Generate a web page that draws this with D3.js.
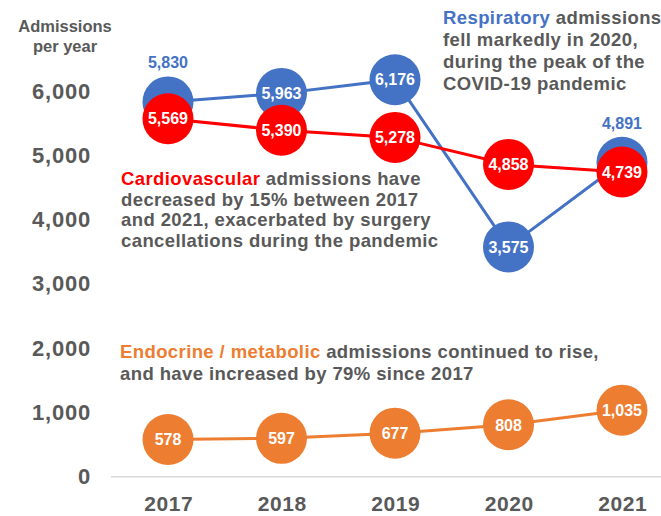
<!DOCTYPE html>
<html>
<head>
<meta charset="utf-8">
<script src="https://cdn.jsdelivr.net/npm/d3@7"></script>
<style>
  body { margin: 0; background: #fff; }
  text { font-family: "Liberation Sans", Arial, Helvetica, sans-serif; font-weight: bold; }
</style>
</head>
<body>
<svg id="chart" width="661" height="516"></svg>
<script>
// Hospital admissions per year by category
const years = ["2017", "2018", "2019", "2020", "2021"];
const respiratory = [5830, 5963, 6176, 3575, 4891];
const cardiovascular = [5569, 5390, 5278, 4858, 4739];
const endocrine = [578, 597, 677, 808, 1035];
const yTicks = [0, 1000, 2000, 3000, 4000, 5000, 6000];

// Which respiratory labels sit above the marker instead of inside it
const respiratoryLabelAbove = [true, false, false, false, true];

const colors = { respiratory: "#4472C4", cardiovascular: "#FF0000", endocrine: "#ED7D31" };
const grey = "#595959";

const svg = d3.select("#chart");

const x = d3.scalePoint().domain(years).range([168, 622]);
const y = d3.scaleLinear().domain([0, 6000]).range([476.7, 91]);

const fmt = d3.format(",");
const R = 25.5;

// Y axis: labels only
const yAxis = svg.append("g")
  .attr("transform", "translate(91,0)")
  .call(d3.axisLeft(y).tickValues(yTicks).tickSize(0).tickPadding(0).tickFormat(fmt));
yAxis.select(".domain").remove();
yAxis.selectAll("text")
  .attr("fill", grey)
  .style("font-size", "22px")
  .style("letter-spacing", "0.8px")
  .style("font-family", "'Liberation Sans', Arial, sans-serif")
  .style("font-weight", "bold");

// Baseline
svg.append("line")
  .attr("x1", 111).attr("x2", 661)
  .attr("y1", y(0)).attr("y2", y(0))
  .attr("stroke", "#d9d9d9").attr("stroke-width", 1.5);

// X axis: year labels
const xAxis = svg.append("g")
  .attr("transform", `translate(0,${y(0)})`)
  .call(d3.axisBottom(x).tickSize(0).tickPadding(19.4));
xAxis.select(".domain").remove();
xAxis.selectAll("text")
  .attr("fill", grey)
  .attr("dx", "0.3px")
  .style("font-size", "21px")
  .style("letter-spacing", "0.6px")
  .style("font-family", "'Liberation Sans', Arial, sans-serif")
  .style("font-weight", "bold");

// Axis title
const title = svg.append("text")
  .attr("x", 65).attr("y", 32)
  .attr("text-anchor", "middle")
  .attr("fill", grey)
  .style("font-size", "16.5px");
title.append("tspan").attr("x", 65).attr("y", 32).text("Admissions");
title.append("tspan").attr("x", 65).attr("y", 52).text("per year");

const line = d3.line().x(d => x(d.year)).y(d => y(d.value));

function drawSeries(values, color, labelAbove) {
  const data = years.map((yr, i) => ({ year: yr, value: values[i], above: labelAbove ? labelAbove[i] : false }));
  const g = svg.append("g");
  g.append("path")
    .datum(data)
    .attr("d", line)
    .attr("fill", "none")
    .attr("stroke", color)
    .attr("stroke-width", 3);
  g.selectAll("circle")
    .data(data)
    .join("circle")
    .attr("cx", d => x(d.year))
    .attr("cy", d => y(d.value))
    .attr("r", R)
    .attr("fill", color);
  g.selectAll("text.inside")
    .data(data.filter(d => !d.above))
    .join("text")
    .attr("class", "inside")
    .attr("x", d => x(d.year))
    .attr("y", d => y(d.value))
    .attr("dy", "0.36em")
    .attr("text-anchor", "middle")
    .attr("fill", "#fff")
    .style("font-size", "16px")
    .text(d => fmt(d.value));
  g.selectAll("text.above")
    .data(data.filter(d => d.above))
    .join("text")
    .attr("class", "above")
    .attr("x", d => x(d.year))
    .attr("y", d => y(d.value) - R - 8)
    .attr("text-anchor", "middle")
    .attr("fill", color)
    .style("font-size", "16px")
    .text(d => fmt(d.value));
}

drawSeries(respiratory, colors.respiratory, respiratoryLabelAbove);
drawSeries(cardiovascular, colors.cardiovascular, null);
drawSeries(endocrine, colors.endocrine, null);

// Annotations
function annotate(xPos, yPos, lineHeight, lines, color) {
  const t = svg.append("text")
    .attr("fill", grey)
    .style("font-size", "18.5px")
    .style("letter-spacing", "0.4px");
  lines.forEach((ln, i) => {
    const row = t.append("tspan").attr("x", xPos).attr("y", yPos + i * lineHeight);
    if (i === 0) {
      row.append("tspan").attr("fill", color).text(ln[0]);
      row.append("tspan").text(ln[1]);
    } else {
      row.text(ln);
    }
  });
}

annotate(443, 24, 22, [
  ["Respiratory", " admissions"],
  "fell markedly in 2020,",
  "during the peak of the",
  "COVID-19 pandemic"
], colors.respiratory);

annotate(121, 185, 20.7, [
  ["Cardiovascular", " admissions have"],
  "decreased by 15% between 2017",
  "and 2021, exacerbated by surgery",
  "cancellations during the pandemic"
], colors.cardiovascular);

annotate(120, 358, 21.5, [
  ["Endocrine / metabolic", " admissions continued to rise,"],
  "and have increased by 79% since 2017"
], colors.endocrine);
</script>
</body>
</html>
